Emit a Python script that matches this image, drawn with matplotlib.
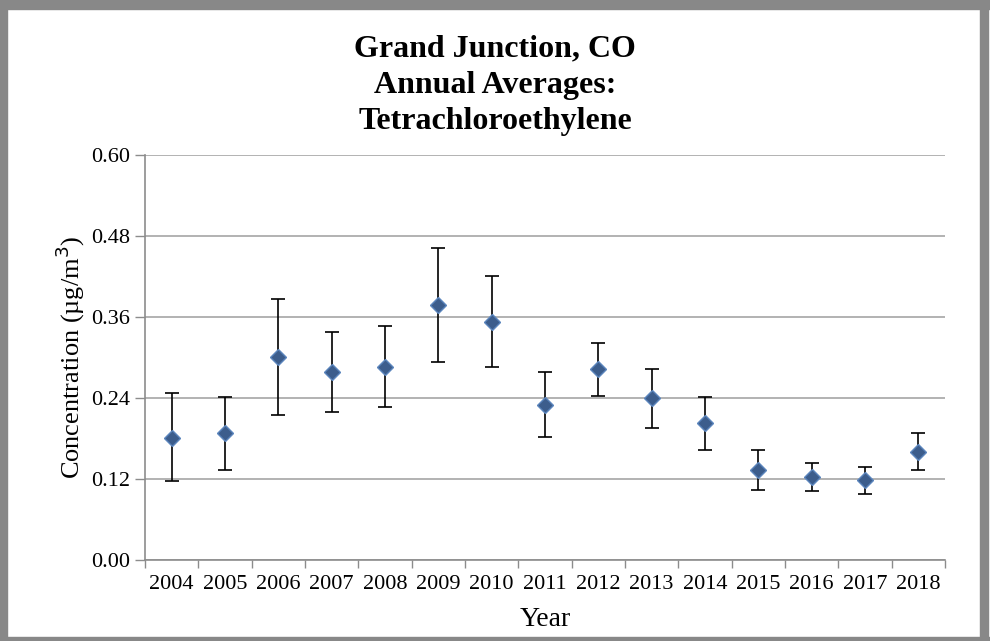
import numpy as np
import matplotlib
matplotlib.use("Agg")
import matplotlib.pyplot as plt
from matplotlib.patches import Rectangle

# annual averages with 95% confidence bounds
years = ["2004", "2005", "2006", "2007", "2008", "2009", "2010", "2011",
         "2012", "2013", "2014", "2015", "2016", "2017", "2018"]
means = [0.181, 0.188, 0.301, 0.278, 0.286, 0.378, 0.353, 0.229,
         0.283, 0.240, 0.203, 0.133, 0.123, 0.119, 0.160]
upper = [0.247, 0.241, 0.387, 0.338, 0.346, 0.462, 0.421, 0.278,
         0.322, 0.283, 0.242, 0.163, 0.144, 0.138, 0.188]
lower = [0.117, 0.134, 0.215, 0.220, 0.226, 0.294, 0.286, 0.182,
         0.243, 0.196, 0.163, 0.104, 0.102, 0.098, 0.133]
yticks = [0.00, 0.12, 0.24, 0.36, 0.48, 0.60]

plt.rcParams["font.family"] = ["Liberation Serif", "DejaVu Serif"]

fig = plt.figure(figsize=(9.9, 6.41), dpi=100)
ax = fig.add_axes([145 / 990, 1 - 560 / 641, 800 / 990, 405 / 641])

x = np.arange(len(years))
m = np.array(means)
yerr = [m - np.array(lower), np.array(upper) - m]
ax.errorbar(x, m, yerr=yerr, fmt="none", ecolor="black", elinewidth=1.2,
            capsize=5, capthick=1.2, zorder=3)
ax.plot(x, m, "D", color="#3c5d8c", markeredgecolor="#5b85bd",
        markeredgewidth=1.0, markersize=8.5, zorder=4)

ax.set_xlim(-0.5, len(years) - 0.5)
ax.set_ylim(0, 0.60)
ax.set_yticks(yticks)
ax.set_yticklabels([f"{v:.2f}" for v in yticks])
ax.set_xticks(x)
ax.set_xticklabels(years)
ax.set_xticks(np.arange(len(years) + 1) - 0.5, minor=True)
ax.tick_params(axis="x", which="major", length=0, labelsize=16, pad=11)
ax.tick_params(axis="x", which="minor", length=6, color="#8c8c8c", width=1)
ax.tick_params(axis="y", length=7, color="#8c8c8c", width=1, labelsize=16, pad=4)

ax.grid(axis="y", color="#a6a6a6", linewidth=1.2)
ax.set_axisbelow(True)
for s in ["top", "right"]:
    ax.spines[s].set_visible(False)
for s in ["left", "bottom"]:
    ax.spines[s].set_color("#8c8c8c")
    ax.spines[s].set_linewidth(1.2)

ax.set_xlabel("Year", fontsize=20, labelpad=9)
ax.set_ylabel("Concentration (µg/m$^3$)", fontsize=19, labelpad=3)
fig.text(0.5, 1 - 85 / 641, "Grand Junction, CO\nAnnual Averages:\nTetrachloroethylene",
         ha="center", va="center", fontsize=23, fontweight="bold", linespacing=1.33)

# outer gray frame
gray = "#888888"
fig.patches.append(Rectangle((0, 1 - 9 / 641), 1, 9 / 641, transform=fig.transFigure,
                             color=gray, zorder=0))
fig.patches.append(Rectangle((0, 0), 7 / 990, 1, transform=fig.transFigure,
                             color=gray, zorder=0))
fig.patches.append(Rectangle((1 - 10 / 990, 0), 8 / 990, 1, transform=fig.transFigure,
                             color=gray, zorder=0))
fig.patches.append(Rectangle((0, 0), 1, 4 / 641, transform=fig.transFigure,
                             color=gray, zorder=0))

fig.savefig("out.png", dpi=100)
